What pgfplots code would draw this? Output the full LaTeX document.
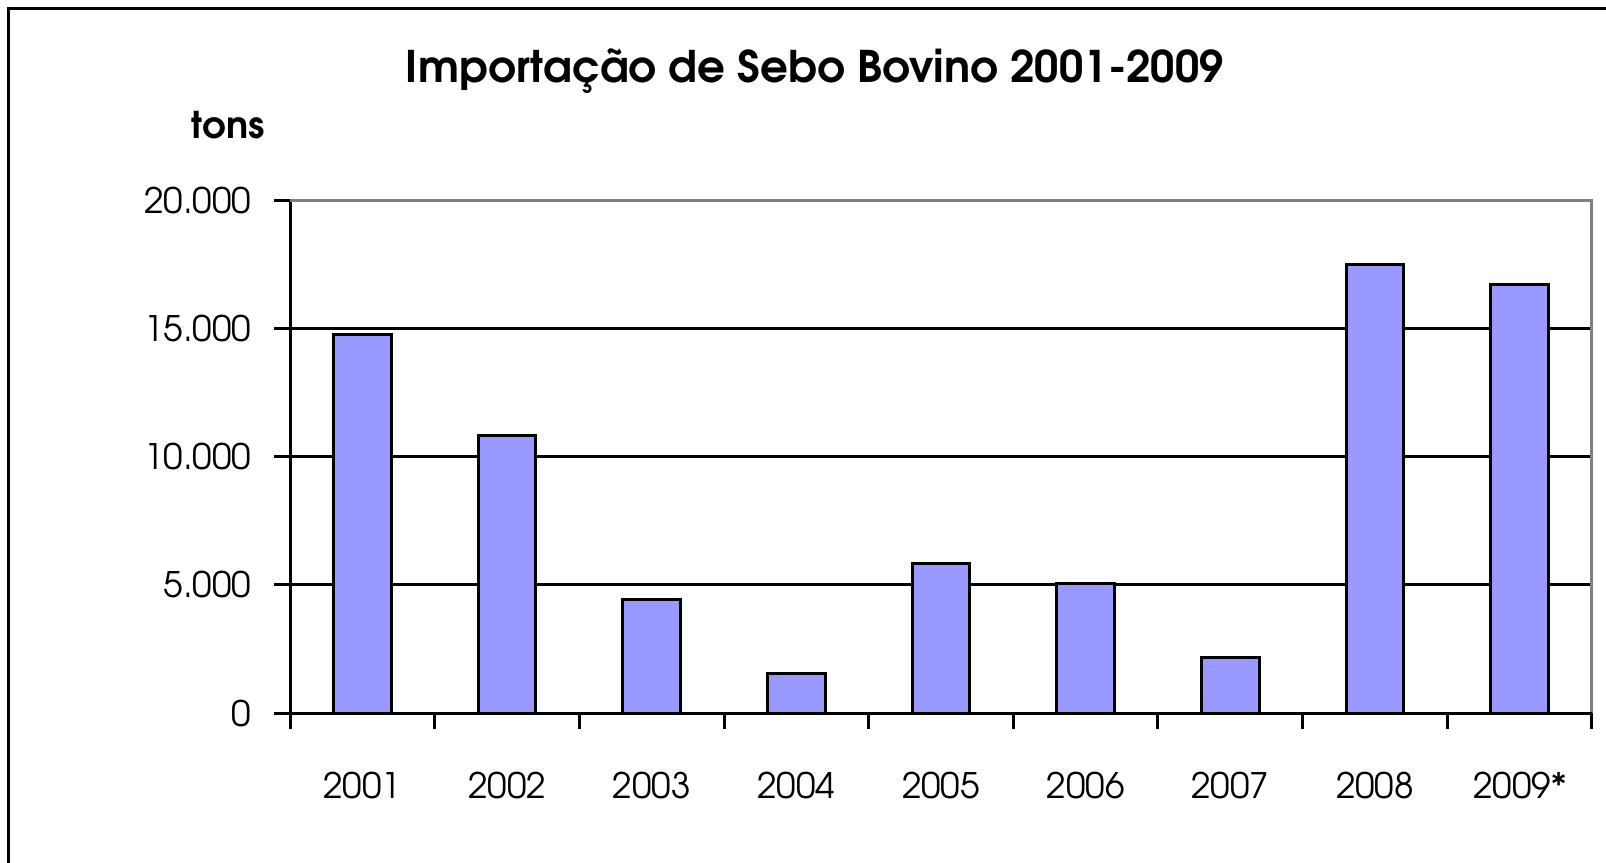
\documentclass[border=0pt]{standalone}
\usepackage{pgfplots}
\pgfplotsset{compat=1.18}
\usepackage{fontspec}
\setmainfont{TeX Gyre Adventor}
\definecolor{barblue}{HTML}{9999FF}
\definecolor{bordergray}{HTML}{808080}
\begin{document}
\begin{tikzpicture}
\useasboundingbox (0,0) rectangle (16.06,-8.62);
\draw[line width=0.3mm] (0.09,-9) -- (0.09,-0.08) -- (16.5,-0.08);
\node[anchor=base, inner sep=0pt] at (8.15,-0.82) {\fontsize{12.4}{15}\selectfont\bfseries Importação de Sebo Bovino 2001-2009};
\node[anchor=base west, inner sep=0pt] at (1.91,-1.38) {\fontsize{10.5}{12}\selectfont\bfseries tons};
\begin{axis}[
  at={(2.90cm,-7.13cm)}, anchor=south west,
  width=13.02cm, height=5.13cm, scale only axis,
  xmin=-0.5, xmax=8.5, ymin=0, ymax=20000,
  axis x line*=bottom, axis y line*=left,
  axis line style={line width=0.3mm, black},
  xtick={0,...,8},
  xticklabels={2001,2002,2003,2004,2005,2006,2007,2008,2009*},
  minor xtick={-0.5,0.5,...,8.5},
  major x tick style={draw=none},
  minor x tick style={line width=0.3mm, black},
  ytick={0,5000,10000,15000,20000},
  yticklabels={0,5.000,10.000,15.000,20.000},
  scaled y ticks=false,
  major y tick style={line width=0.3mm, black},
  tick align=outside,
  major tick length=1.6mm, minor tick length=1.6mm,
  ymajorgrids, grid style={line width=0.3mm, black},
  tick label style={font=\fontsize{10}{12}\selectfont},
  /pgf/number format/assume math mode=true,
  yticklabel style={anchor=east, inner sep=0pt, xshift=-2.2mm},
  xticklabel style={anchor=north, inner sep=0pt, yshift=-4.2mm},
  clip=false,
]
\addplot[ybar, bar width=0.4, fill=barblue, draw=black, line width=0.3mm]
  coordinates {(0,14740) (1,10818) (2,4416) (3,1532) (4,5844) (5,5065) (6,2182) (7,17480) (8,16701)};
\draw[bordergray, line width=0.3mm] (axis cs:-0.5,20000) -- (axis cs:8.5,20000) -- (axis cs:8.5,0);
\draw[black, line width=0.3mm] (axis cs:-0.5,0) -- (axis cs:8.5,0);
\end{axis}
\end{tikzpicture}
\end{document}
